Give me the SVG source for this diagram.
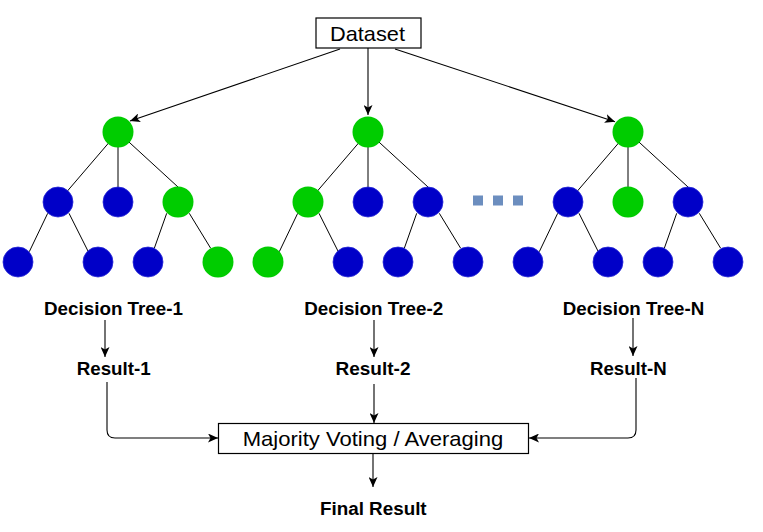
<svg xmlns="http://www.w3.org/2000/svg" width="763" height="532" viewBox="0 0 763 532">
<style>
.g{fill:#00CC00}
.b{fill:#0000C8;stroke:#2a2ad8;stroke-width:0.8}
.e{stroke:#000;stroke-width:1;fill:none}
.c{stroke:#000;stroke-width:1.1;fill:none}
.box{fill:#fff;stroke:#000;stroke-width:1.2}
.t{font-family:"Liberation Sans",Arial,sans-serif;font-size:21px;fill:#000}
.lb{font-family:"Liberation Sans",Arial,sans-serif;font-size:18px;font-weight:bold;fill:#000}
.dot{fill:#6C8EBF}
</style>
<defs>
<marker id="ah" markerUnits="userSpaceOnUse" markerWidth="11" markerHeight="9" refX="10" refY="4.5" orient="auto">
<path d="M0,0 L10,4.5 L0,9 L2.5,4.5 Z" fill="#000"/>
</marker>
</defs>
<g id="connectors">
<path class="c" d="M340,49 L130,121" marker-end="url(#ah)"/>
<path class="c" d="M368,48 L368,115" marker-end="url(#ah)"/>
<path class="c" d="M395,49 L615,121.7" marker-end="url(#ah)"/>
<path class="c" d="M105,320 L105,357" marker-end="url(#ah)"/>
<path class="c" d="M374,320 L374,357" marker-end="url(#ah)"/>
<path class="c" d="M633,318 L633,356" marker-end="url(#ah)"/>
<path class="c" d="M107,382 V430 Q107,438 115,438 H218" marker-end="url(#ah)"/>
<path class="c" d="M374,384 L374,423" marker-end="url(#ah)"/>
<path class="c" d="M636,378 V430 Q636,438 628,438 H529" marker-end="url(#ah)"/>
<path class="c" d="M373,453 L373,487" marker-end="url(#ah)"/>
</g>
<g id="tree-edges">
<g transform="translate(0,0)">
<path class="e" d="M118,132 L58,202 M118,132 V202 M118,132 L178,187 M47.7,213.3 L29.3,251.7 M69,213.3 L88.3,251.7 M166.7,213.3 L154.3,248.3 M189.3,213.3 L210.7,248.3"/>
</g>
<g transform="translate(250,0)">
<path class="e" d="M118,132 L58,202 M118,132 V202 M118,132 L178,187 M47.7,213.3 L29.3,251.7 M69,213.3 L88.3,251.7 M166.7,213.3 L154.3,248.3 M189.3,213.3 L210.7,248.3"/>
</g>
<g transform="translate(510,0)">
<path class="e" d="M118,132 L58,202 M118,132 V202 M118,132 L178,187 M47.7,213.3 L29.3,251.7 M69,213.3 L88.3,251.7 M166.7,213.3 L154.3,248.3 M189.3,213.3 L210.7,248.3"/>
</g>
</g>
<g id="tree1">
<circle class="g" cx="118" cy="132" r="15.5"/>
<circle class="b" cx="58" cy="202" r="15"/>
<circle class="b" cx="118" cy="202" r="15"/>
<circle class="g" cx="178" cy="202" r="15.5"/>
<circle class="b" cx="18" cy="262" r="15"/>
<circle class="b" cx="98" cy="262" r="15"/>
<circle class="b" cx="148" cy="262" r="15"/>
<circle class="g" cx="218" cy="262" r="15.5"/>
</g>
<g id="tree2">
<circle class="g" cx="368" cy="132" r="15.5"/>
<circle class="g" cx="308" cy="202" r="15.5"/>
<circle class="b" cx="368" cy="202" r="15"/>
<circle class="b" cx="428" cy="202" r="15"/>
<circle class="g" cx="268" cy="262" r="15.5"/>
<circle class="b" cx="348" cy="262" r="15"/>
<circle class="b" cx="398" cy="262" r="15"/>
<circle class="b" cx="468" cy="262" r="15"/>
</g>
<g id="tree3">
<circle class="g" cx="628" cy="132" r="15.5"/>
<circle class="b" cx="568" cy="202" r="15"/>
<circle class="g" cx="628" cy="202" r="15.5"/>
<circle class="b" cx="688" cy="202" r="15"/>
<circle class="b" cx="528" cy="262" r="15"/>
<circle class="b" cx="608" cy="262" r="15"/>
<circle class="b" cx="658" cy="262" r="15"/>
<circle class="b" cx="728" cy="262" r="15"/>
</g>
<g id="ellipsis">
<rect class="dot" x="473" y="195.5" width="10" height="10"/>
<rect class="dot" x="493" y="195.5" width="10" height="10"/>
<rect class="dot" x="513" y="195.5" width="10" height="10"/>
</g>
<g id="dataset">
<rect class="box" x="316" y="18" width="105" height="30"/>
<text class="t" x="367.5" y="40.7" text-anchor="middle" textLength="75" lengthAdjust="spacingAndGlyphs">Dataset</text>
</g>
<g id="label-tree1"><text class="lb" x="113.5" y="315" text-anchor="middle" textLength="139" lengthAdjust="spacingAndGlyphs">Decision Tree-1</text></g>
<g id="label-tree2"><text class="lb" x="373.7" y="315" text-anchor="middle" textLength="139" lengthAdjust="spacingAndGlyphs">Decision Tree-2</text></g>
<g id="label-treeN"><text class="lb" x="633.5" y="315" text-anchor="middle" textLength="141.5" lengthAdjust="spacingAndGlyphs">Decision Tree-N</text></g>
<g id="result1"><text class="lb" x="113.7" y="375" text-anchor="middle" textLength="74" lengthAdjust="spacingAndGlyphs">Result-1</text></g>
<g id="result2"><text class="lb" x="373" y="375" text-anchor="middle" textLength="75" lengthAdjust="spacingAndGlyphs">Result-2</text></g>
<g id="resultN"><text class="lb" x="628.3" y="375" text-anchor="middle" textLength="76.7" lengthAdjust="spacingAndGlyphs">Result-N</text></g>
<g id="majority">
<rect class="box" x="218.5" y="423.5" width="310" height="30"/>
<text class="t" x="373" y="445.7" text-anchor="middle" textLength="260.6" lengthAdjust="spacingAndGlyphs">Majority Voting / Averaging</text>
</g>
<g id="final"><text class="lb" x="373.3" y="515" text-anchor="middle" textLength="106.7" lengthAdjust="spacingAndGlyphs">Final Result</text></g>
</svg>
